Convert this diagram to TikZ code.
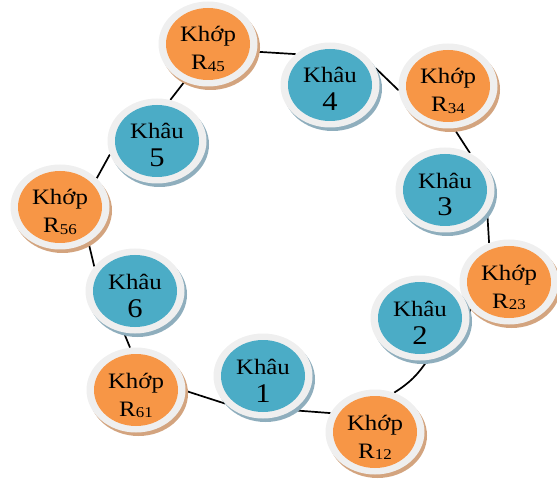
\documentclass[tikz,border=0pt]{standalone}
\usepackage{fontspec}
\setmainfont{Liberation Serif}[FakeStretch=1.13]
\usetikzlibrary{shapes.geometric,shadows,backgrounds}

\definecolor{jointorange}{HTML}{F79646}
\definecolor{linkblue}{HTML}{4BACC6}
\definecolor{ringgray}{HTML}{EFEFEF}
\definecolor{jointshadow}{HTML}{D3A47F}
\definecolor{linkshadow}{HTML}{8FAEBD}

% two-line label: word on top, number/name below (baseline of last line)
\newcommand\twolines[2]{\begin{tabular}[b]{@{}c@{}}#1\\#2\end{tabular}}
\newcommand\bignum[1]{{\fontsize{27}{28}\selectfont #1}}
\newcommand\jointname[1]{R\raisebox{-1.5pt}{\fontsize{15}{15}\selectfont #1}}

\tikzset{
  ringnode/.style={ellipse, minimum width=99pt, minimum height=85pt,
    inner sep=0pt, fill=ringgray, text=black,
    font=\fontsize{22}{28}\selectfont, text height=52pt, text depth=0pt},
  joint/.style={ringnode,
    drop shadow={shadow xshift=2.5pt, shadow yshift=-3.5pt, fill=jointshadow, opacity=1},
    path picture={\fill[jointorange] (path picture bounding box.center)
      ellipse [x radius=42pt, y radius=36pt];}},
  link/.style={ringnode,
    drop shadow={shadow xshift=2.5pt, shadow yshift=-3.5pt, fill=linkshadow, opacity=1},
    path picture={\fill[linkblue] (path picture bounding box.center)
      ellipse [x radius=42pt, y radius=36pt];}},
  connector/.style={draw=black, line width=1.7pt}
}

\begin{document}
\begin{tikzpicture}[x=1pt,y=-1pt]
\useasboundingbox (0,0) rectangle (557,481);

\node[joint] (r45) at (208,44)  {\twolines{Khớp}{\jointname{45}}};
\node[link]  (k4)  at (330,85)  {\twolines{Khâu}{\bignum{4}}};
\node[joint] (r34) at (448,86)  {\twolines{Khớp}{\jointname{34}}};
\node[link]  (k3)  at (445,190) {\twolines{Khâu}{\bignum{3}}};
\node[joint] (r23) at (509,282) {\twolines{Khớp}{\jointname{23}}};
\node[link]  (k2)  at (420,318) {\twolines{Khâu}{\bignum{2}}};
\node[joint] (r12) at (375,432) {\twolines{Khớp}{\jointname{12}}};
\node[link]  (k1)  at (263,376) {\twolines{Khâu}{\bignum{1}}};
\node[joint] (r61) at (136,390) {\twolines{Khớp}{\jointname{61}}};
\node[link]  (k6)  at (135,291) {\twolines{Khâu}{\bignum{6}}};
\node[joint] (r56) at (60,207)  {\twolines{Khớp}{\jointname{56}}};
\node[link]  (k5)  at (157,141) {\twolines{Khâu}{\bignum{5}}};

\begin{scope}[on background layer]
  \draw[connector] (r45.-9)  -- (k4.138);
  \draw[connector] (k4.20)   -- (r34.185);
  \draw[connector] (r34.-82) -- (k3.56);
  \draw[connector] (k3.-28)  -- (r23.117);
  \draw[connector] (r23.215) -- (k2.6);
  \draw[connector] (k2.-80)  to[bend left=12] (r12.64);
  \draw[connector] (r12.157) -- (k1.-49);
  \draw[connector] (k1.216)  -- (r61.-1);
  \draw[connector] (r61.98)  -- (k6.-105);
  \draw[connector] (k6.149)  -- (r56.-51);
  \draw[connector] (r56.38)  -- (k5.196);
  \draw[connector] (k5.72)   -- (r45.238);
\end{scope}
\end{tikzpicture}
\end{document}
